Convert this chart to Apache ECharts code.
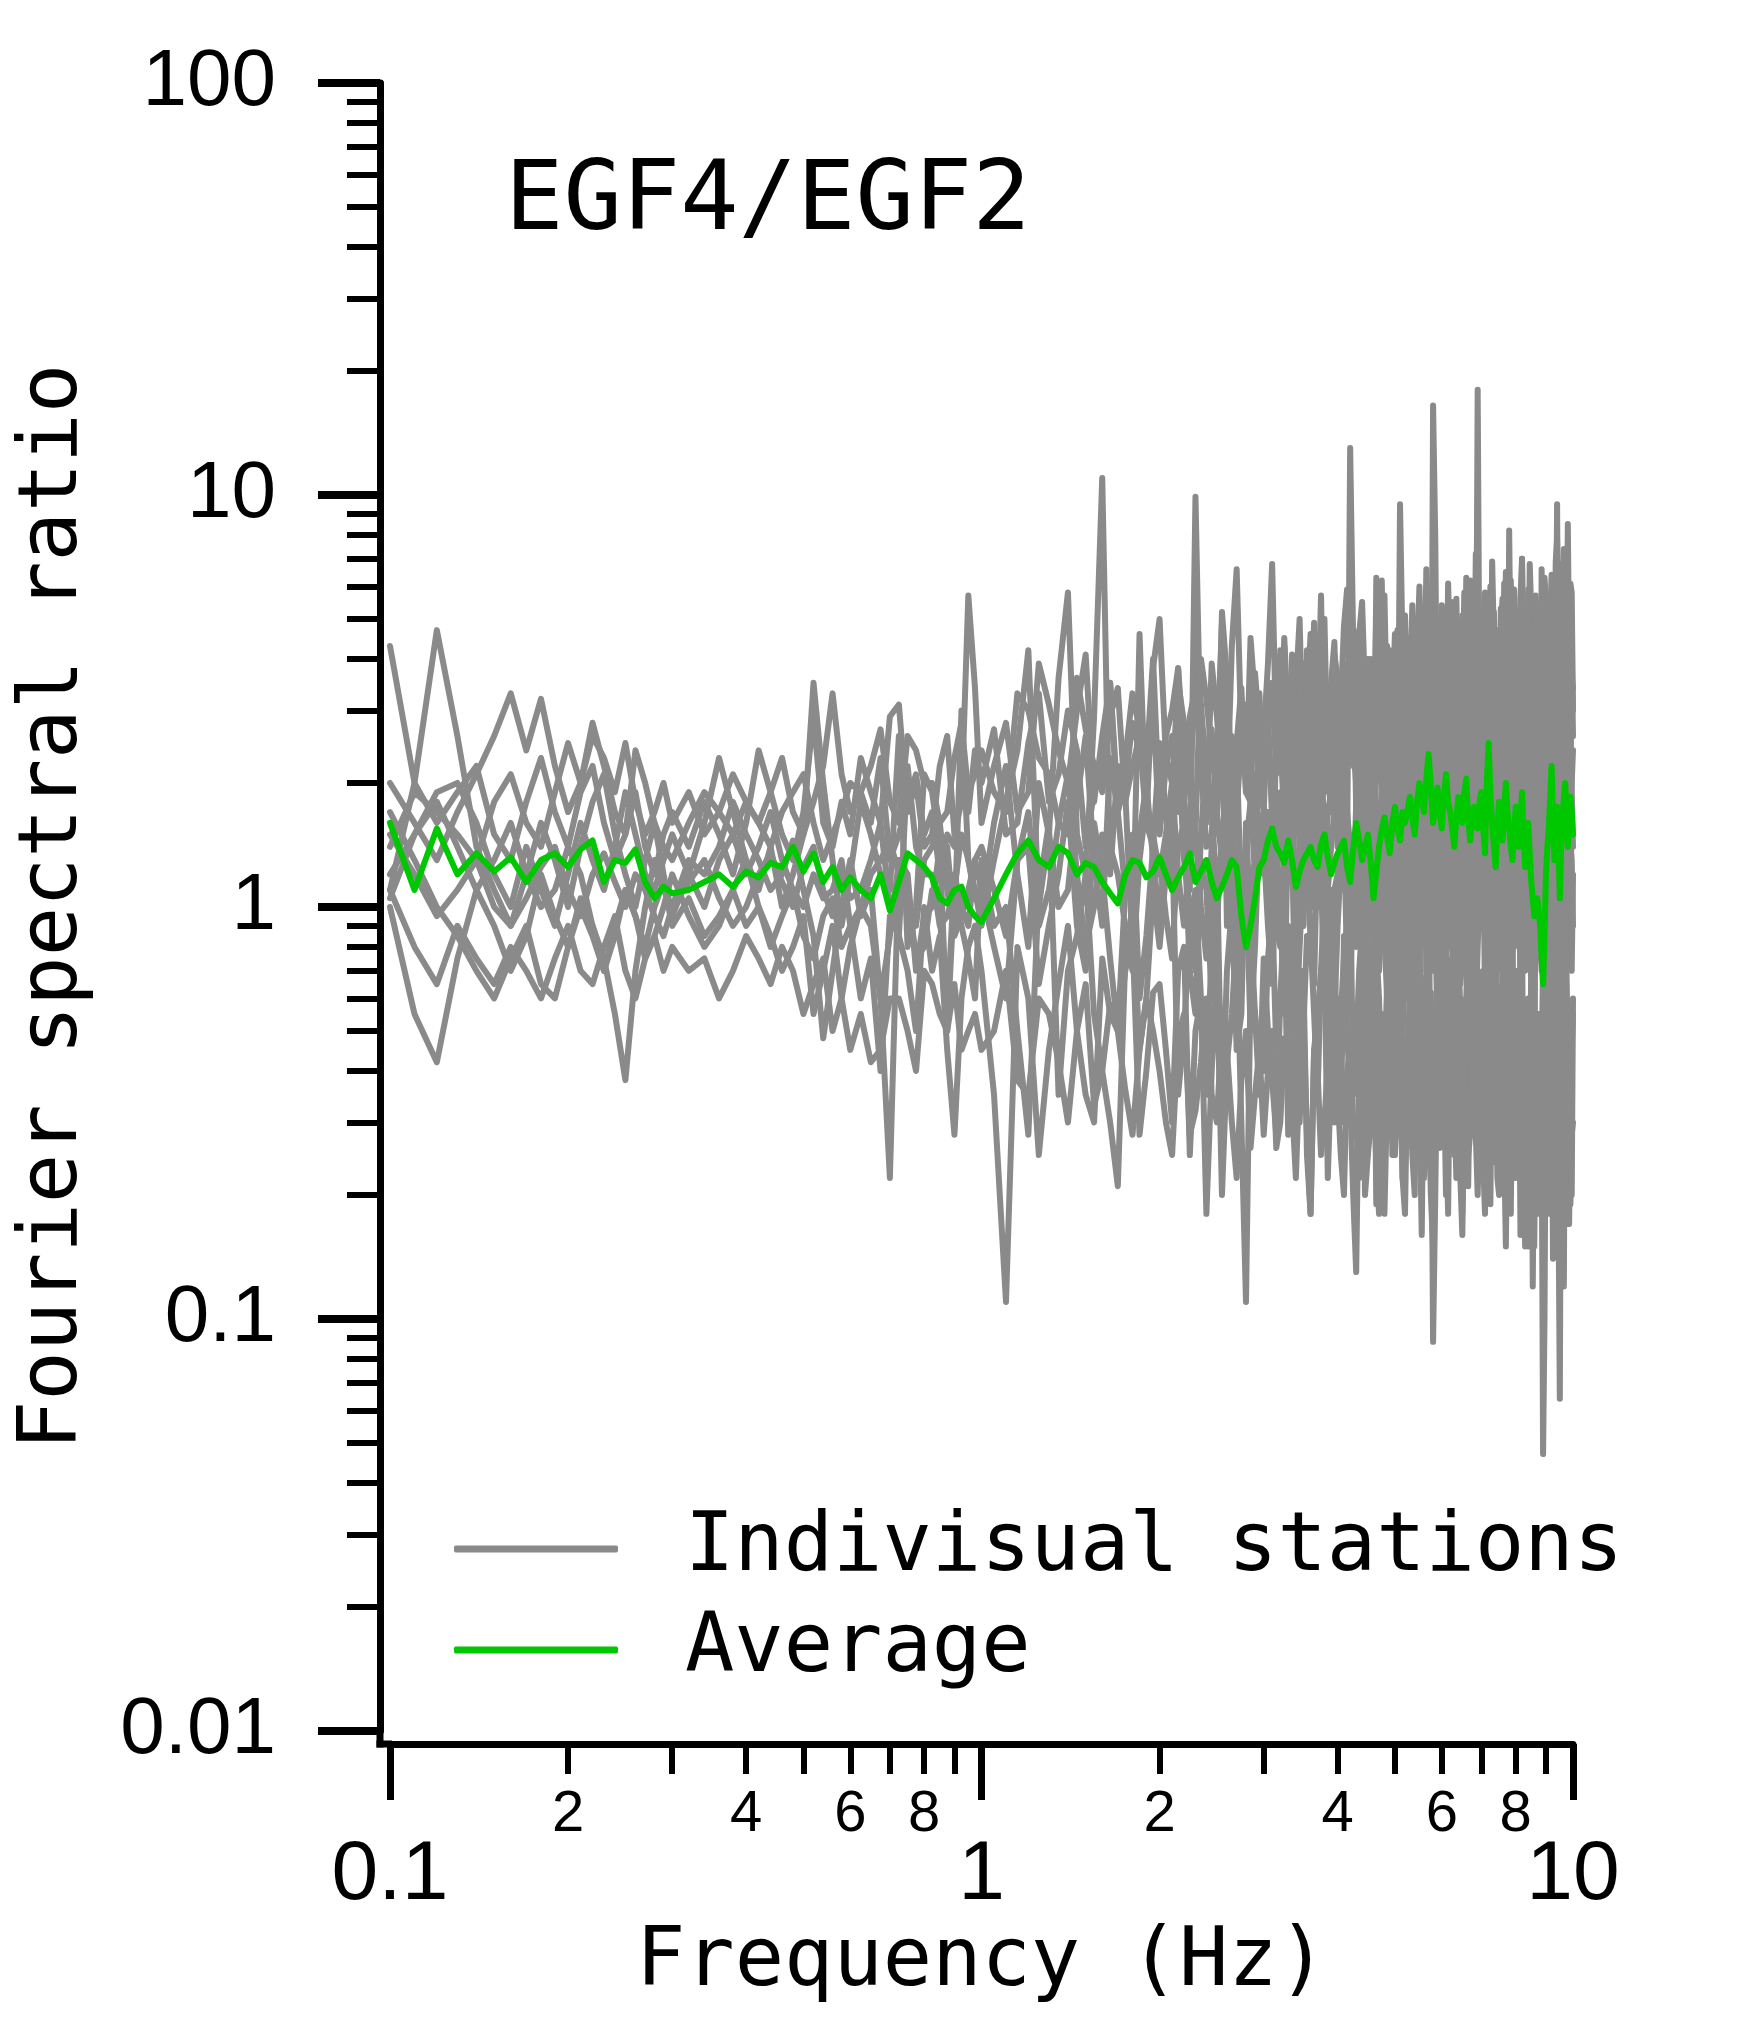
<!DOCTYPE html>
<html><head><meta charset="utf-8">
<script src="https://cdn.jsdelivr.net/npm/echarts@6/dist/echarts.min.js"></script>
<style>html,body{margin:0;padding:0;background:#fff}#c{width:1752px;height:2023px}</style>
</head><body><div id="c"></div>
<script>
// Frequency samples (Hz)
const freq = [
 0.10,0.11,0.12,0.13,0.14,0.15,0.16,0.17,0.18,0.19,0.20,0.21,0.22,0.23,0.24,0.25,0.26,0.27,0.28,0.29,0.30,
 0.32,0.34,0.36,0.38,0.40,0.42,0.44,0.46,0.48,0.50,0.52,0.54,0.56,0.58,0.60,
 0.65,0.70,0.75,0.80,0.85,0.90,0.95,
 1.0,1.1,1.2,1.3,1.4,1.5,1.6,1.7,1.8,1.9,
 2.0,2.1,2.2,2.3,2.4,2.5,2.6,2.7,2.8,2.9,
 3.0,3.1,3.2,3.3,3.4,3.5,3.6,3.7,3.8,3.9,
 4.0,4.1,4.2,4.3,4.4,4.5,4.6,4.7,4.8,4.9,
 5.0,5.1,5.2,5.3,5.4,5.5,5.6,5.7,5.8,5.9,
 6.0,6.1,6.2,6.3,6.4,6.5,6.6,6.7,6.8,6.9,
 7.0,7.1,7.2,7.3,7.4,7.5,7.6,7.7,7.8,7.9,
 8.0,8.1,8.2,8.3,8.4,8.5,8.6,8.7,8.8,8.9,
 9.0,9.1,9.2,9.3,9.4,9.5,9.6,9.7,9.8,9.9,
 10.0];
// In-between frequency samples (Hz)
const freqMid = [
 0.625,0.675,0.725,0.775,0.825,0.875,0.925,0.975,
 1.05,1.15,1.25,1.35,1.45,1.55,1.65,1.75,1.85,1.95,
 2.05,2.15,2.25,2.35,2.45,2.55,2.65,2.75,2.85,2.95,
 3.05,3.15,3.25,3.35,3.45,3.55,3.65,3.75,3.85,3.95,
 4.05,4.15,4.25,4.35,4.45,4.55,4.65,4.75,4.85,4.95,
 5.05,5.15,5.25,5.35,5.45,5.55,5.65,5.75,5.85,5.95,
 6.05,6.15,6.25,6.35,6.45,6.55,6.65,6.75,6.85,6.95,
 7.05,7.15,7.25,7.35,7.45,7.55,7.65,7.75,7.85,7.95,
 8.05,8.15,8.25,8.35,8.45,8.55,8.65,8.75,8.85,8.95,
 9.05,9.15,9.25,9.35,9.45,9.55,9.65,9.75,9.85,9.95];

// Individual stations (spectral ratio) at freq
const s1 = [
 4.3,2.0,1.6,1.9,2.2,1.5,1.3,1.8,2.3,1.7,1.4,1.9,2.2,1.6,1.3,1.5,1.9,1.4,1.2,1.5,1.7,
 1.4,1.8,1.5,1.2,1.6,2.4,1.9,1.5,1.3,1.7,2.9,1.6,1.4,1.8,1.5,
 1.9,2.9,1.7,1.4,2.2,1.5,5.7,
 1.6,2.8,1.9,3.1,2.0,4.1,2.6,1.8,3.3,2.2,
 1.7,3.0,2.4,4.4,2.1,1.6,3.6,2.5,1.9,3.2,
 2.6,6.8,2.9,1.8,3.4,2.2,4.6,2.7,1.9,3.5,
 2.3,4.8,3.0,2.0,5.5,2.6,1.7,3.9,2.4,4.2,
 2.8,1.9,5.1,3.3,2.2,6.0,2.9,4.5,2.1,3.6,
 5.4,2.5,3.8,1.8,4.9,3.1,2.3,6.2,2.7,4.0,
 2.2,5.8,3.4,2.6,4.7,1.9,3.7,6.5,2.8,4.3,
 3.0,2.1,7.0,3.6,2.4,5.2,2.9,4.1,1.8,3.3,
 5.6,2.6,4.4,3.1,7.8,2.3,5.0,3.5,2.7,6.1,
 3.0];
const s2 = [
 1.1,2.0,4.7,2.6,1.4,1.1,0.9,1.2,1.6,1.3,1.0,1.4,1.8,2.1,1.5,1.2,1.0,1.3,1.6,1.2,0.95,
 1.2,1.6,2.3,1.7,1.3,1.1,1.4,1.0,1.2,1.5,3.5,2.0,1.3,0.9,1.2,
 1.5,1.1,0.8,2.1,1.4,0.9,1.3,
 0.9,1.8,4.2,1.5,5.8,1.2,11.0,2.2,0.8,1.6,
 2.5,1.1,1.9,9.9,1.4,2.3,0.9,1.7,3.1,1.2,
 1.8,0.8,2.6,1.3,2.1,0.9,1.6,3.2,1.1,1.9,
 1.4,3.5,13.0,1.7,0.9,2.4,1.2,2.8,5.7,1.5,
 2.2,9.5,1.3,2.9,1.0,1.8,3.4,1.2,16.5,2.0,
 1.1,2.6,1.5,0.8,3.0,1.9,1.2,2.4,1.4,18.0,
 2.7,1.3,2.0,0.9,3.3,1.6,2.5,1.1,8.2,1.8,
 1.2,2.9,7.0,1.5,0.8,2.3,1.3,3.6,1.0,2.1,
 1.6,0.9,2.7,1.4,9.5,1.1,2.2,3.8,8.5,1.7,
 2.4];
const s3 = [
 1.0,0.55,0.42,0.75,1.1,0.9,0.7,0.85,1.2,0.95,0.8,1.05,0.9,0.7,0.85,1.1,0.95,0.8,1.0,1.15,0.9,
 1.05,0.85,0.95,1.1,0.9,1.0,0.8,0.95,1.1,0.85,0.75,0.95,1.05,0.8,0.9,
 0.75,0.95,0.7,1.0,0.85,0.28,0.8,
 0.7,0.11,0.6,0.45,0.9,0.35,0.75,0.5,0.85,0.4,
 0.65,0.3,0.8,0.5,0.18,0.7,0.42,0.85,0.11,0.55,
 0.75,0.38,0.6,0.9,0.45,0.7,0.18,0.55,0.8,0.4,
 0.6,0.85,0.35,0.13,0.65,0.5,0.9,0.4,0.18,0.7,
 0.45,0.8,0.3,0.6,0.75,0.35,0.55,0.25,0.088,0.5,
 0.7,0.3,0.55,0.85,0.4,0.22,0.6,0.45,0.8,0.35,
 0.5,0.75,0.28,0.6,0.24,0.45,0.7,0.33,0.55,0.8,
 0.4,0.62,0.25,0.5,0.15,0.7,0.35,0.55,0.3,0.047,
 0.45,0.3,0.6,0.4,0.75,0.064,0.35,0.55,0.17,0.5,
 0.6];
const s4 = [
 2.0,1.6,1.3,1.7,2.1,2.6,3.3,2.4,3.2,2.2,1.7,2.0,2.6,2.3,1.9,2.5,1.8,1.5,1.7,2.0,1.6,
 1.9,1.5,1.7,2.1,1.8,1.6,1.9,2.3,1.7,1.5,1.8,2.2,3.3,2.1,1.7,
 2.2,1.8,2.6,2.0,1.6,2.3,1.9,
 2.4,1.7,3.0,2.1,1.5,2.7,1.9,3.4,2.2,1.6,
 5.0,2.0,2.8,1.5,3.2,2.4,1.8,6.6,2.1,2.9,
 1.7,3.5,2.2,2.8,1.6,3.9,2.5,1.9,3.1,2.3,
 3.6,2.0,2.7,4.1,1.8,3.0,2.3,3.7,1.9,2.6,
 3.2,2.2,4.4,1.9,2.9,2.5,3.8,2.1,3.3,2.6,
 2.0,4.6,2.7,3.4,2.2,5.1,2.5,3.0,1.9,3.9,
 3.3,2.4,4.0,2.0,3.5,2.6,5.6,2.2,3.1,2.7,
 2.3,4.2,2.8,3.5,2.1,4.8,2.6,3.2,2.0,3.7,
 2.9,4.5,2.2,3.3,2.6,5.3,2.4,3.9,2.8,4.1,
 3.4];
const s5 = [
 1.7,1.3,1.0,0.85,0.7,0.6,0.75,0.9,0.65,0.6,0.8,1.0,0.85,0.7,0.9,1.1,0.95,0.75,0.85,1.0,1.2,
 0.95,0.8,0.9,1.1,1.3,1.0,0.85,0.7,0.8,0.95,0.55,0.7,0.9,0.6,0.8,
 0.9,0.22,1.1,0.8,0.95,1.2,0.9,
 1.1,0.6,1.4,0.9,1.8,0.7,1.2,0.5,1.5,0.85,
 1.3,0.75,1.6,0.55,1.1,0.9,1.9,0.6,1.2,0.8,
 1.4,0.65,1.0,1.7,0.5,1.2,0.8,1.5,0.6,1.1,
 0.9,1.6,0.55,1.3,0.75,2.0,0.6,1.1,0.85,1.4,
 0.7,1.5,0.9,0.45,1.2,0.65,1.8,0.8,1.3,0.5,
 1.6,0.9,1.2,0.55,1.9,0.75,1.1,0.5,1.4,0.8,
 1.0,0.6,1.7,0.85,0.24,1.3,0.7,1.5,0.55,1.2,
 0.9,1.4,0.6,1.1,0.75,1.8,0.5,1.2,0.85,1.5,
 0.65,1.3,0.9,0.5,1.6,0.8,1.1,0.6,1.4,0.95,
 1.2];
const s6 = [
 1.2,1.5,1.8,1.4,1.1,1.3,1.6,1.2,1.0,1.1,1.4,1.2,0.9,0.75,0.55,0.38,0.7,1.0,1.3,1.1,1.0,
 1.3,1.2,1.4,1.8,1.5,1.3,1.1,1.2,1.45,1.1,0.85,0.48,0.7,1.0,1.3,
 1.1,0.85,1.2,0.95,1.4,1.1,0.75,
 1.3,1.0,0.28,1.6,0.7,1.2,0.4,0.21,1.0,0.6,
 0.8,1.5,0.5,1.1,0.35,1.3,0.7,0.45,1.6,0.55,
 0.4,1.0,0.6,0.28,1.2,0.5,0.85,0.35,1.1,0.7,
 0.3,0.75,1.2,0.45,0.9,0.25,1.1,0.6,0.4,0.95,
 0.55,0.3,1.0,0.7,0.2,0.85,0.45,1.2,0.35,0.65,
 0.28,0.9,0.5,0.35,0.8,0.18,0.6,1.0,0.3,0.7,
 0.45,0.25,0.85,0.55,1.1,0.3,0.65,0.2,0.9,0.4,
 0.7,0.35,0.9,0.15,0.6,0.3,1.0,0.45,0.22,0.75,
 0.35,0.6,0.2,0.85,0.4,0.7,0.25,1.0,0.45,0.3,
 0.55];
const s7 = [
 1.4,1.9,1.7,1.5,1.3,1.8,2.1,1.6,1.4,1.9,2.5,2.0,2.8,2.2,1.7,1.5,2.4,2.0,1.6,1.4,1.3,
 1.6,1.9,1.7,1.5,1.8,1.6,1.4,1.7,1.9,2.1,1.6,1.3,1.5,1.7,2.0,
 1.6,1.3,1.8,1.5,1.2,1.4,1.7,
 2.0,1.5,2.5,1.8,3.0,1.4,2.2,1.7,2.8,1.9,
 1.5,2.6,1.8,3.4,1.6,2.9,1.3,2.3,1.9,3.7,
 2.1,1.6,4.2,1.9,2.7,1.4,3.1,2.0,5.0,1.7,
 2.8,1.5,3.3,2.2,1.8,4.0,1.6,2.5,3.4,1.9,
 4.6,2.1,1.7,3.7,1.5,2.6,1.9,5.5,1.6,3.0,
 2.2,1.5,3.6,2.0,1.7,2.9,6.3,1.8,3.2,1.6,
 3.9,1.8,2.4,6.9,1.7,3.0,1.5,2.6,1.9,4.4,
 1.7,3.5,2.0,1.6,5.9,2.2,1.5,2.8,4.9,1.8,
 3.2,1.6,6.4,2.1,1.8,3.6,1.5,2.5,7.2,2.0,
 2.6];
const s8 = [
 1.1,0.8,0.65,0.9,0.75,0.65,0.8,0.7,0.6,0.75,0.9,0.7,0.65,0.8,0.95,0.7,0.6,0.75,0.85,0.7,0.8,
 0.7,0.75,0.6,0.7,0.85,0.75,0.65,0.8,0.7,0.55,0.65,0.75,0.5,0.6,0.45,
 0.42,0.6,0.5,0.7,0.55,0.65,0.5,
 0.45,0.7,0.35,0.55,0.3,0.65,0.4,0.5,0.28,0.6,
 0.4,0.25,0.55,0.32,0.6,0.3,0.45,0.22,0.5,0.35,
 0.28,0.5,0.3,0.45,0.22,0.55,0.18,0.4,0.3,0.5,
 0.35,0.2,0.45,0.3,0.55,0.25,0.4,0.18,0.5,0.3,
 0.25,0.45,0.18,0.4,0.3,0.55,0.22,0.35,0.15,0.45,
 0.3,0.2,0.5,0.25,0.4,0.16,0.35,0.28,0.45,0.2,
 0.35,0.18,0.4,0.25,0.5,0.2,0.32,0.15,0.42,0.28,
 0.22,0.4,0.17,0.35,0.26,0.45,0.15,0.3,0.2,0.38,
 0.27,0.18,0.4,0.24,0.33,0.16,0.3,0.22,0.36,0.19,
 0.3];
const s9 = [
 1.5,1.2,0.95,1.1,1.3,1.0,0.9,1.05,1.25,1.4,1.1,0.95,1.2,1.35,1.15,1.0,1.2,1.1,0.95,0.85,1.0,
 1.15,1.3,1.05,0.9,1.0,1.2,1.35,1.15,1.0,1.25,1.4,1.1,0.95,1.2,1.05,
 1.3,1.0,2.2,1.2,0.9,1.1,1.3,
 1.0,2.2,0.8,1.5,1.1,2.6,0.9,1.7,1.2,2.0,
 0.95,1.8,1.3,0.7,2.3,1.1,1.6,0.85,1.4,2.1,
 1.2,0.75,1.9,1.3,0.9,2.4,1.0,1.6,0.8,1.4,
 2.0,1.1,0.7,1.8,1.2,0.85,2.5,1.0,1.5,0.8,
 1.3,2.2,0.75,1.6,1.0,2.7,0.9,1.4,0.7,1.9,
 1.0,1.6,0.8,2.4,1.2,0.7,1.8,1.0,2.9,0.85,
 1.5,0.9,2.1,1.1,0.75,1.7,1.0,2.6,0.8,1.3,
 2.0,0.85,1.4,0.7,2.3,1.1,1.6,0.75,1.2,2.5,
 0.9,1.5,1.0,2.2,0.8,1.3,1.9,0.7,1.2,1.6,
 0.9];
const s10 = [
 1.05,1.5,1.9,2.0,1.6,1.2,1.0,1.4,1.1,0.9,1.2,1.6,1.3,1.1,1.4,1.9,1.5,1.2,1.1,1.3,1.5,
 1.2,1.0,1.3,1.5,1.2,1.4,1.7,1.3,1.1,1.0,1.2,1.05,1.1,1.3,0.9,
 1.2,1.45,1.0,1.3,1.6,0.85,1.1,
 1.4,0.85,1.7,1.1,2.1,0.8,1.5,1.2,0.7,1.8,
 1.2,2.0,0.9,1.5,0.75,1.7,1.1,2.4,0.8,1.3,
 1.7,1.1,0.8,2.0,1.3,0.9,2.3,1.0,1.5,0.75,
 1.2,2.2,1.4,0.8,1.6,1.1,1.9,0.7,1.3,2.4,
 1.0,1.7,2.6,1.1,0.8,1.9,1.2,0.65,2.2,1.4,
 1.8,0.75,1.3,2.5,0.9,1.5,1.0,2.1,0.7,1.6,
 1.2,2.3,0.85,1.4,1.9,0.8,2.6,1.1,1.5,0.7,
 1.7,1.1,2.2,0.9,1.4,0.65,2.0,1.3,0.85,1.9,
 1.2,2.4,0.8,1.5,1.0,2.1,0.7,1.7,1.3,2.6,
 1.4];

// Individual stations at freqMid
const s1Mid = [
 2.3,1.6,3.1,2.0,1.5,2.6,1.8,3.4,
 2.2,1.7,3.9,2.4,3.0,1.8,3.5,2.3,2.7,4.0,
 2.6,3.8,1.9,3.1,2.7,5.2,2.0,3.4,4.5,2.4,
 3.9,2.5,4.3,2.6,5.0,2.9,3.3,5.7,2.6,4.4,
 3.1,5.9,2.5,4.6,3.3,4.0,2.8,6.2,3.5,2.9,
 4.7,3.2,2.6,5.4,3.9,3.0,6.6,3.4,4.9,2.8,
 3.6,6.1,2.9,4.4,3.3,5.8,4.1,3.0,7.2,3.5,
 4.8,3.1,6.0,4.2,2.9,5.3,3.8,4.6,3.2,5.9,
 4.4,5.6,3.3,4.9,6.8,3.0,5.5,3.7,4.3,6.3,
 3.6,5.2,3.9,6.9,4.0,3.4,7.4,4.6,3.1,5.8];
const s2Mid = [
 1.8,1.2,2.6,1.0,1.9,1.4,3.0,1.1,
 1.3,2.4,1.0,3.6,1.5,2.9,1.2,1.9,4.6,1.4,
 1.7,3.8,1.1,2.2,1.5,4.9,1.3,2.6,1.8,3.3,
 1.2,2.8,1.6,4.1,1.4,2.3,1.0,3.5,1.7,2.5,
 2.9,1.3,4.4,2.0,3.1,1.2,6.3,1.8,2.7,3.9,
 1.5,4.2,2.0,3.6,1.3,5.1,2.4,1.1,7.8,2.7,
 3.9,1.4,2.8,5.6,1.7,3.3,1.2,4.5,2.1,3.0,
 1.6,4.7,2.3,1.2,3.8,2.6,6.1,1.5,3.4,2.2,
 5.2,1.8,3.1,1.3,4.3,2.4,1.1,3.7,6.6,1.9,
 2.8,4.6,1.4,3.5,2.3,6.8,1.6,3.2,4.1,2.0];
const s3Mid = [
 0.6,0.4,0.85,0.5,0.7,0.45,0.6,0.9,
 0.35,0.8,0.25,0.65,0.5,0.3,0.55,0.7,0.28,0.62,
 0.45,0.7,0.25,0.6,0.4,0.2,0.55,0.3,0.65,0.35,
 0.5,0.28,0.75,0.3,0.55,0.25,0.45,0.7,0.22,0.6,
 0.3,0.5,0.2,0.45,0.28,0.7,0.19,0.55,0.35,0.25,
 0.6,0.22,0.45,0.3,0.5,0.16,0.4,0.62,0.2,0.35,
 0.45,0.18,0.5,0.28,0.6,0.35,0.21,0.55,0.3,0.42,
 0.26,0.5,0.19,0.4,0.55,0.22,0.35,0.6,0.18,0.45,
 0.3,0.16,0.45,0.22,0.38,0.12,0.5,0.2,0.33,0.1,
 0.26,0.5,0.14,0.35,0.2,0.45,0.12,0.3,0.4,0.2];
const s4Mid = [
 1.9,2.7,1.6,2.4,2.0,1.7,2.8,2.1,
 1.9,3.3,2.3,1.6,3.6,2.2,2.9,1.8,2.6,3.8,
 2.3,3.5,1.9,4.0,2.4,3.1,4.3,2.6,3.7,2.0,
 3.2,2.1,4.5,2.6,3.4,2.2,4.9,3.0,2.5,4.1,
 2.6,3.9,2.2,4.7,3.1,2.5,5.3,2.8,4.3,3.2,
 2.4,5.0,3.3,2.7,4.6,3.1,2.6,5.4,2.9,4.3,
 3.7,2.6,5.5,3.0,4.1,2.8,6.0,3.4,2.7,4.8,
 2.6,4.3,3.0,5.2,2.8,4.7,3.2,2.9,6.2,3.5,
 3.9,2.7,5.1,3.1,4.4,2.9,5.7,3.4,2.8,4.5,
 3.5,2.8,5.6,3.2,4.6,3.0,6.3,3.1,5.2,3.6];
const s5Mid = [
 1.0,0.6,1.3,0.75,1.1,0.55,1.0,1.3,
 0.8,1.3,0.65,1.2,0.9,1.6,0.75,1.1,0.6,1.4,
 0.95,1.4,0.7,1.3,0.6,1.5,0.85,1.1,0.5,1.6,
 0.9,1.3,0.55,1.4,0.8,1.7,0.65,1.2,0.9,0.55,
 1.3,0.7,1.5,0.9,0.45,1.6,0.85,1.3,0.6,1.1,
 1.2,0.55,1.4,1.0,0.6,1.6,0.7,1.1,0.95,1.7,
 0.6,1.3,0.8,1.6,0.65,1.2,0.9,1.7,0.55,1.1,
 1.4,0.8,1.1,0.5,1.5,0.9,1.2,0.65,1.7,0.8,
 1.2,0.6,1.6,0.85,1.3,0.55,1.0,1.5,0.7,1.1,
 1.0,0.55,1.4,0.8,1.2,0.6,1.7,0.9,1.1,0.7];
const s6Mid = [
 0.95,0.6,1.3,0.7,1.0,0.5,0.9,0.6,
 0.9,0.5,1.1,0.35,0.85,0.55,0.3,0.75,0.45,1.1,
 1.2,0.35,0.9,0.6,0.8,0.3,1.0,0.55,0.9,0.4,
 0.75,0.45,0.95,0.5,0.3,0.85,0.55,0.7,0.4,0.9,
 0.55,0.9,0.35,0.7,0.2,0.6,0.8,0.35,0.65,0.3,
 0.8,0.45,0.6,0.25,0.9,0.4,0.7,0.3,0.5,0.8,
 0.5,0.35,0.75,0.22,0.55,0.4,0.85,0.3,0.6,0.25,
 0.7,0.35,0.5,0.8,0.25,0.6,0.4,0.75,0.3,0.55,
 0.45,0.6,0.25,0.5,0.35,0.8,0.2,0.55,0.4,0.6,
 0.5,0.3,0.75,0.4,0.6,0.22,0.55,0.7,0.17,0.45];
const s7Mid = [
 1.9,2.3,1.5,2.1,1.7,1.5,2.0,2.4,
 2.7,1.6,3.3,2.1,2.4,1.9,3.5,2.0,2.4,3.1,
 2.2,1.7,2.9,2.1,3.9,2.0,2.6,3.2,1.8,2.7,
 3.0,2.4,2.0,3.6,2.3,4.2,2.2,3.4,2.1,3.8,
 2.0,3.7,2.3,4.6,2.5,3.1,2.2,4.2,2.1,3.0,
 2.5,3.9,2.3,2.8,4.3,2.0,3.5,2.4,4.6,2.2,
 3.3,2.6,4.9,2.3,3.8,2.1,3.4,4.2,2.2,5.1,
 2.5,3.6,2.1,4.4,3.0,2.2,4.9,2.4,3.3,2.7,
 3.8,2.2,4.4,2.7,3.3,2.0,5.3,2.3,3.6,2.9,
 2.4,4.8,2.6,3.7,2.2,5.0,2.5,3.9,2.3,4.2];
const s8Mid = [
 0.55,0.45,0.6,0.4,0.65,0.5,0.45,0.55,
 0.5,0.38,0.6,0.42,0.5,0.33,0.58,0.36,0.45,0.5,
 0.3,0.48,0.28,0.42,0.35,0.52,0.3,0.38,0.26,0.45,
 0.4,0.26,0.48,0.33,0.4,0.28,0.45,0.25,0.42,0.3,
 0.25,0.4,0.3,0.22,0.42,0.3,0.24,0.45,0.28,0.4,
 0.35,0.22,0.42,0.26,0.38,0.3,0.45,0.2,0.38,0.26,
 0.4,0.26,0.3,0.42,0.22,0.36,0.25,0.4,0.28,0.34,
 0.24,0.4,0.28,0.36,0.22,0.42,0.26,0.33,0.2,0.38,
 0.3,0.25,0.36,0.2,0.4,0.25,0.33,0.18,0.42,0.26,
 0.35,0.22,0.3,0.38,0.2,0.32,0.24,0.4,0.22,0.28];
const s9Mid = [
 1.1,1.6,0.85,1.4,1.2,0.95,1.5,1.05,
 1.6,1.2,2.0,1.0,1.8,1.3,2.3,1.1,1.5,1.3,
 1.4,2.5,1.0,1.5,1.7,1.2,2.1,1.1,1.8,1.4,
 1.7,1.1,1.4,2.1,1.2,1.6,1.3,2.2,1.1,1.7,
 1.3,1.7,1.0,1.5,2.2,1.2,1.6,1.9,1.1,1.4,
 1.8,1.0,2.0,1.2,1.6,1.1,2.3,1.2,1.7,1.4,
 1.3,2.0,1.1,1.5,1.7,1.2,1.4,2.2,1.3,1.6,
 1.1,1.8,1.4,1.6,1.2,2.1,1.3,1.5,1.9,1.1,
 1.4,1.7,1.0,1.9,1.3,1.5,2.0,1.1,1.8,1.4,
 1.7,1.1,1.9,1.3,1.6,1.0,2.3,1.2,1.6,1.3];
const s10Mid = [
 1.0,1.3,1.2,0.9,1.4,1.1,0.95,1.3,
 1.1,1.3,0.9,1.6,1.2,1.0,1.4,0.9,1.3,1.5,
 1.5,1.2,1.3,1.0,1.4,1.3,1.8,1.0,1.1,1.6,
 1.3,0.9,1.5,1.4,1.0,1.7,1.2,1.3,1.0,1.1,
 1.6,1.7,1.0,1.2,1.3,1.5,1.2,1.0,1.9,1.6,
 1.3,2.1,1.6,0.9,1.4,1.5,0.9,1.6,1.7,1.5,
 1.2,1.0,2.0,1.4,1.2,1.1,1.5,1.3,1.1,1.4,
 1.8,1.4,1.1,1.7,1.3,1.6,1.7,1.2,1.0,1.3,
 1.3,1.6,1.4,1.2,1.0,1.4,1.6,1.0,1.5,1.5,
 1.8,1.5,1.2,1.3,1.6,1.3,1.2,1.5,2.0,1.9];

// Average of the stations
const average = [
 1.60,1.10,1.55,1.20,1.35,1.22,1.32,1.15,1.30,1.35,1.25,1.38,1.45,1.15,1.30,1.28,1.38,1.15,1.05,1.12,1.08,
 1.10,1.15,1.20,1.12,1.22,1.18,1.28,1.25,1.40,1.22,1.35,1.15,1.25,1.10,1.18,
 1.05,0.98,1.35,1.25,1.05,1.10,1.00,
 0.92,1.20,1.45,1.25,1.35,1.28,1.15,1.02,1.30,1.18,
 1.32,1.10,1.25,1.15,1.30,1.05,1.20,1.25,0.80,1.05,
 1.30,1.55,1.35,1.45,1.12,1.30,1.40,1.25,1.50,1.20,
 1.35,1.45,1.15,1.60,1.30,1.50,1.05,1.40,1.65,1.35,
 1.75,1.45,1.60,1.85,1.50,2.00,1.70,2.35,1.60,1.95,
 1.55,2.10,1.70,1.40,1.85,1.60,2.05,1.45,1.75,1.55,
 1.90,1.35,2.50,1.60,1.25,1.80,1.45,2.00,1.55,1.30,
 1.75,1.40,1.90,1.25,1.60,1.15,0.95,1.05,0.90,0.65,
 1.20,1.55,2.20,1.30,1.75,1.05,1.65,2.00,1.40,1.85,
 1.50];
const averageMid = [
 1.10,1.20,1.15,1.30,1.18,1.02,1.12,0.95,
 1.05,1.35,1.30,1.40,1.20,1.25,1.08,1.20,1.28,1.22,
 1.20,1.18,1.35,1.22,1.15,1.12,1.30,0.95,0.90,1.25,
 1.45,1.40,1.28,1.30,1.22,1.35,1.30,1.42,1.32,1.28,
 1.40,1.25,1.38,1.45,1.40,1.28,1.22,1.55,1.48,1.60,
 1.55,1.70,1.72,1.65,1.80,1.85,2.05,1.95,1.75,1.70,
 1.85,1.80,1.55,1.65,1.70,1.90,1.65,1.60,1.65,1.80,
 1.55,2.00,1.90,1.40,1.55,1.60,1.75,1.70,1.40,1.50,
 1.55,1.65,1.50,1.45,1.35,1.05,1.00,0.98,0.75,0.85,
 1.40,1.85,1.65,1.55,1.35,1.40,1.85,1.70,1.60,1.70];

// Axis ticks and labels
const xMajorTicks = [0.1, 1, 10];
const xMajorLabels = ['0.1', '1', '10'];
const xMinorTicks = [0.2,0.3,0.4,0.5,0.6,0.7,0.8,0.9,2,3,4,5,6,7,8,9];
const xMinorLabelTicks = [0.2,0.4,0.6,0.8,2,4,6,8];
const xMinorLabels = ['2','4','6','8','2','4','6','8'];
const yMajorTicks = [0.01, 0.1, 1, 10, 100];
const yMajorLabels = ['0.01', '0.1', '1', '10', '100'];
const yMinorTicks = [0.02,0.03,0.04,0.05,0.06,0.07,0.08,0.09,
  0.2,0.3,0.4,0.5,0.6,0.7,0.8,0.9, 2,3,4,5,6,7,8,9, 20,30,40,50,60,70,80,90];

const stations = [[s1, s1Mid], [s2, s2Mid], [s3, s3Mid], [s4, s4Mid], [s5, s5Mid],
                  [s6, s6Mid], [s7, s7Mid], [s8, s8Mid], [s9, s9Mid], [s10, s10Mid]];
const GREY = '#8a8a8a', GREEN = '#00c800';
const NUM_FONT = "'Liberation Sans', sans-serif";
const TXT_FONT = "'DejaVu Sans Mono', monospace";
const L = Math.log10;
const lbl = (ticks, labels) => v => {
  for (let i = 0; i < ticks.length; i++) if (Math.abs(L(ticks[i]) - v) < 1e-6) return labels[i];
  return '';
};
const pairs = (main, mid) => freq.map((f, i) => [f, main[i]])
  .concat(freqMid.map((f, i) => [f, mid[i]]))
  .sort((a, b) => a[0] - b[0]);

const series = stations.map(([a, b]) => ({
  type: 'line', name: 'Indivisual stations', xAxisIndex: 0, yAxisIndex: 0,
  data: pairs(a, b), symbol: 'none', showSymbol: false,
  lineStyle: { color: GREY, width: 6, join: 'round', cap: 'round' }, itemStyle: { color: GREY },
  z: 2, silent: true
}));
series.push({
  type: 'line', name: 'Average', xAxisIndex: 0, yAxisIndex: 0,
  data: pairs(average, averageMid), symbol: 'none', showSymbol: false,
  lineStyle: { color: GREEN, width: 6, join: 'round', cap: 'round' }, itemStyle: { color: GREEN },
  z: 3, silent: true
});

const chart = echarts.init(document.getElementById('c'), null, { renderer: 'canvas' });
chart.setOption({
  animation: false,
  backgroundColor: '#fff',
  title: {
    text: 'EGF4/EGF2', left: 500, top: 150,
    textStyle: { fontFamily: TXT_FONT, fontSize: 97, fontWeight: 'normal', color: '#000' }
  },
  legend: {
    left: 449, top: 1499, orient: 'vertical', itemWidth: 164, itemHeight: 7, itemGap: 11,
    icon: 'roundRect',
    data: ['Indivisual stations', 'Average'], selectedMode: false,
    textStyle: { fontFamily: TXT_FONT, fontSize: 82, lineHeight: 90, color: '#000', padding: [0, 0, 0, 62] }
  },
  grid: { left: 390, right: 179, top: 83, bottom: 292, containLabel: false },
  xAxis: [
    { type: 'log', logBase: 10, min: 0.1, max: 10, show: false, position: 'bottom', splitLine: { show: false } },
    { type: 'value', min: -1, max: 1, position: 'bottom', offset: 13,
      axisLine: { show: true, onZero: false, lineStyle: { color: '#000', width: 7 } },
      axisTick: { show: true, customValues: xMajorTicks.map(L), length: 56, lineStyle: { color: '#000', width: 7 } },
      axisLabel: { show: true, customValues: xMajorTicks.map(L), formatter: lbl(xMajorTicks, xMajorLabels),
        margin: 90, color: '#000', fontFamily: NUM_FONT, fontSize: 84 },
      splitLine: { show: false },
      name: 'Frequency (Hz)', nameLocation: 'middle', nameGap: 175,
      nameTextStyle: { fontFamily: TXT_FONT, fontSize: 82, color: '#000' } },
    { type: 'value', min: -1, max: 1, position: 'bottom', offset: 13,
      axisLine: { show: false, onZero: false },
      axisTick: { show: true, customValues: xMinorTicks.map(L), length: 30, lineStyle: { color: '#000', width: 6 } },
      axisLabel: { show: true, customValues: xMinorLabelTicks.map(L), formatter: lbl(xMinorLabelTicks, xMinorLabels),
        margin: 42, color: '#000', fontFamily: NUM_FONT, fontSize: 58 },
      splitLine: { show: false } }
  ],
  yAxis: [
    { type: 'log', logBase: 10, min: 0.01, max: 100, show: false, position: 'left', splitLine: { show: false } },
    { type: 'value', min: -2, max: 2, position: 'left', offset: 10,
      axisLine: { show: true, onZero: false, lineStyle: { color: '#000', width: 7 } },
      axisTick: { show: true, customValues: yMajorTicks.map(L), length: 62, lineStyle: { color: '#000', width: 8 } },
      axisLabel: { show: true, customValues: yMajorTicks.map(L), formatter: lbl(yMajorTicks, yMajorLabels),
        margin: 104, color: '#000', fontFamily: NUM_FONT, fontSize: 80 },
      splitLine: { show: false },
      name: 'Fourier spectral ratio', nameLocation: 'middle', nameRotate: 90, nameGap: 284,
      nameTextStyle: { fontFamily: TXT_FONT, fontSize: 82, color: '#000' } },
    { type: 'value', min: -2, max: 2, position: 'left', offset: 10,
      axisLine: { show: false, onZero: false },
      axisTick: { show: true, customValues: yMinorTicks.map(L), length: 33, lineStyle: { color: '#000', width: 6 } },
      axisLabel: { show: false },
      splitLine: { show: false } }
  ],
  graphic: [
    { type: 'line', shape: { x1: 380, y1: 1728, x2: 380, y2: 1747.5 }, style: { stroke: '#000', lineWidth: 7 }, silent: true },
    { type: 'line', shape: { x1: 376.5, y1: 1744, x2: 392, y2: 1744 }, style: { stroke: '#000', lineWidth: 7 }, silent: true }
  ],
  series: series
});
</script>
</body></html>
